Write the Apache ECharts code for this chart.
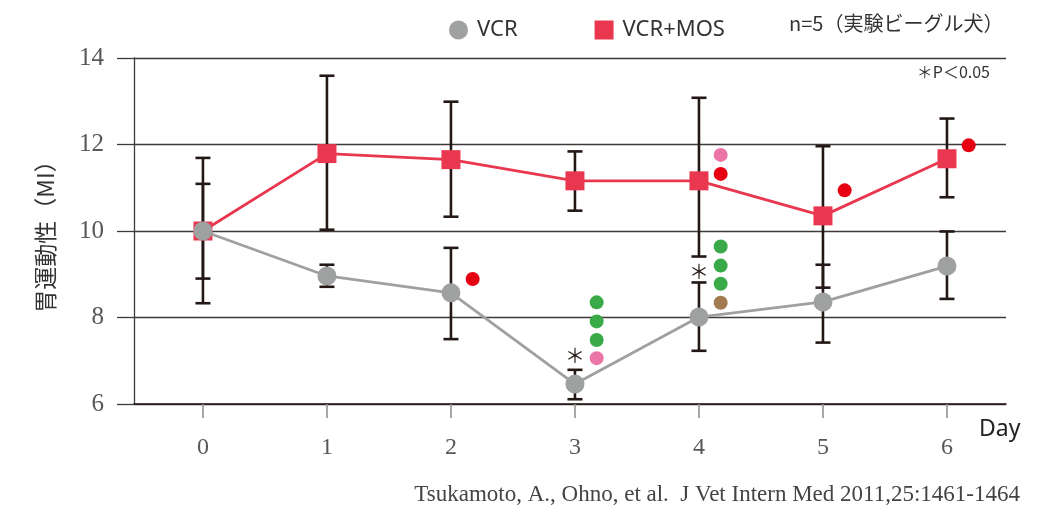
<!DOCTYPE html>
<html>
<head>
<meta charset="utf-8">
<script src="https://cdn.jsdelivr.net/npm/echarts@6/dist/echarts.min.js"></script>
<style>
html,body{margin:0;padding:0;background:#fff;}
#chart{width:1047px;height:509px;}
</style>
</head>
<body>
<div id="chart"></div>
<script>
// ---- data ----
const days = [0, 1, 2, 3, 4, 5, 6];
const vcrMean = [10.0, 8.96, 8.57, 6.46, 8.01, 8.36, 9.19];
const vcrLow  = [8.90, 8.71, 7.50, 6.11, 7.23, 7.42, 8.43];
const vcrHigh = [11.09, 9.22, 9.61, 6.79, 8.81, 9.22, 9.99];
const mosMean = [10.0, 11.79, 11.65, 11.16, 11.16, 10.35, 11.67];
const mosLow  = [8.33, 10.03, 10.33, 10.47, 9.41, 8.69, 10.78];
const mosHigh = [11.69, 13.59, 12.99, 11.84, 13.08, 11.96, 12.60];
// coloured individual markers beside bars
const dotDays   = [2, 3, 3, 3, 3, 4, 4, 4, 4, 4, 4, 5, 6];
const dotValues = [8.89, 8.35, 7.91, 7.48, 7.06, 11.76, 11.32, 9.64, 9.20, 8.78, 8.34, 10.94, 11.98];
const dotKinds  = ['red', 'green', 'green', 'green', 'pink', 'pink', 'red', 'green', 'green', 'green', 'brown', 'red', 'red'];
// significance asterisks
const starDays   = [3, 4];
const starValues = [7.13, 9.06];

// ---- style ----
const dotOffset = 0.175;
const dotColors = {red: '#e60012', green: '#3aaa48', pink: '#eb75a6', brown: '#a27a50'};
const grey = '#a0a0a0';
const red = '#e8374f';
const barColor = '#231815';
const gridColor = '#3e3a39';

const chart = echarts.init(document.getElementById('chart'), null, {renderer: 'canvas'});

function errData(low, high) {
  return days.map((d, i) => [d, low[i], high[i]]);
}
function renderErr(params, api) {
  const x = api.value(0);
  const lo = api.coord([x, api.value(1)]);
  const hi = api.coord([x, api.value(2)]);
  const hw = 7.5;
  const st = {stroke: barColor, lineWidth: 2.6};
  return {
    type: 'group',
    children: [
      {type: 'line', shape: {x1: lo[0], y1: lo[1], x2: hi[0], y2: hi[1]}, style: st},
      {type: 'line', shape: {x1: lo[0] - hw, y1: lo[1], x2: lo[0] + hw, y2: lo[1]}, style: st},
      {type: 'line', shape: {x1: hi[0] - hw, y1: hi[1], x2: hi[0] + hw, y2: hi[1]}, style: st}
    ]
  };
}
function renderStar(params, api) {
  const p = api.coord([api.value(0), api.value(1)]);
  return {
    type: 'text', x: p[0], y: p[1],
    style: {text: '＊', fontSize: 20, fill: '#231815', align: 'center', verticalAlign: 'middle',
      fontFamily: 'Noto Sans CJK JP, sans-serif'}
  };
}

const option = {
  animation: false,
  backgroundColor: '#ffffff',
  grid: {left: 134, right: 41, top: 58, bottom: 105, containLabel: false},
  legend: {
    left: 444, top: 14,
    itemWidth: 19, itemHeight: 19, itemGap: 77,
    textStyle: {fontSize: 22, color: '#333', fontFamily: 'Noto Sans, sans-serif', padding: [0, 0, 0, 4]},
    data: [
      {name: 'VCR', icon: 'circle', itemStyle: {color: '#9fa0a0'}},
      {name: 'VCR+MOS', icon: 'rect', itemStyle: {color: red}}
    ]
  },
  xAxis: {
    type: 'value', min: -0.556, max: 6.476,
    splitLine: {show: false},
    axisLine: {show: true, onZero: false, lineStyle: {color: barColor, width: 1.6}},
    axisTick: {show: true, customValues: days, length: 14, lineStyle: {color: '#8c8c8c', width: 1.5}},
    axisLabel: {customValues: days, margin: 32, fontSize: 24, color: '#595757', fontFamily: 'Liberation Serif, serif'}
  },
  yAxis: {
    type: 'value', min: 6, max: 14, interval: 2,
    name: '胃運動性（MI）', nameLocation: 'middle', nameGap: 77, nameRotate: 90,
    nameTextStyle: {fontSize: 23, color: '#333', fontFamily: 'Noto Sans CJK JP, sans-serif'},
    axisLine: {show: true, onZero: false, lineStyle: {color: gridColor, width: 1.3}},
    axisTick: {show: true, length: 17, lineStyle: {color: gridColor, width: 1.3}},
    splitLine: {show: true, lineStyle: {color: gridColor, width: 1.3}},
    axisLabel: {margin: 30, fontSize: 25, color: '#595757', fontFamily: 'Liberation Serif, serif'}
  },
  graphic: [
    {type: 'text', left: 789, top: 13, style: {text: 'n=5（実験ビーグル犬）', fontSize: 20, fill: '#333', fontFamily: 'Noto Sans CJK JP, sans-serif'}},
    {type: 'text', right: 57, top: 64, style: {text: '＊P＜0.05', fontSize: 16, fill: '#333', fontFamily: 'Noto Sans CJK JP, sans-serif'}},
    {type: 'text', left: 979, top: 418, style: {text: 'Day', fontSize: 23, fill: '#222', fontFamily: 'Noto Sans, sans-serif'}},
    {type: 'text', right: 27, top: 483, style: {text: 'Tsukamoto, A., Ohno, et al.  J Vet Intern Med 2011,25:1461-1464', fontSize: 23, fill: '#444', fontFamily: 'Liberation Serif, serif'}}
  ],
  series: [
    {type: 'custom', name: 'errMOS', renderItem: renderErr, data: errData(mosLow, mosHigh), z: 2, silent: true},
    {type: 'custom', name: 'errVCR', renderItem: renderErr, data: errData(vcrLow, vcrHigh), z: 2, silent: true},
    {
      type: 'line', name: 'VCR+MOS', z: 3,
      data: days.map((d, i) => [d, mosMean[i]]),
      symbol: 'rect', symbolSize: 19,
      itemStyle: {color: red},
      lineStyle: {color: red, width: 2.8}
    },
    {
      type: 'line', name: 'VCR', z: 4,
      data: days.map((d, i) => [d, vcrMean[i]]),
      symbol: 'circle', symbolSize: 19,
      itemStyle: {color: '#9fa0a0'},
      lineStyle: {color: grey, width: 2.8}
    },
    {
      type: 'scatter', name: 'dots', z: 5, symbolSize: 14,
      data: dotDays.map((d, i) => ({value: [d + dotOffset, dotValues[i]], itemStyle: {color: dotColors[dotKinds[i]], opacity: 1}}))
    },
    {
      type: 'custom', name: 'stars', z: 6, renderItem: renderStar, silent: true,
      data: starDays.map((d, i) => [d, starValues[i]])
    }
  ]
};
chart.setOption(option);
</script>
</body>
</html>
